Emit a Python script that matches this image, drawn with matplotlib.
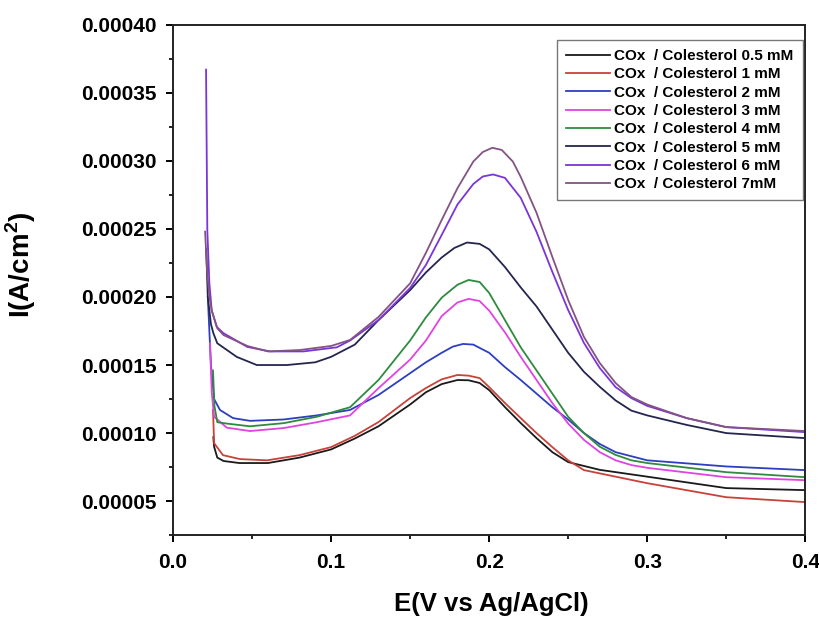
import matplotlib
matplotlib.use("Agg")
import matplotlib.pyplot as plt
from matplotlib.ticker import MultipleLocator

plt.rcParams['font.family'] = ['Liberation Sans', 'DejaVu Sans']
plt.rcParams['font.weight'] = 'bold'
plt.rcParams['mathtext.fontset'] = 'custom'
plt.rcParams['mathtext.bf'] = 'Liberation Sans:bold'
plt.rcParams['mathtext.rm'] = 'Liberation Sans:bold'

labels = ["COx  / Colesterol 0.5 mM", "COx  / Colesterol 1 mM", "COx  / Colesterol 2 mM",
          "COx  / Colesterol 3 mM", "COx  / Colesterol 4 mM", "COx  / Colesterol 5 mM",
          "COx  / Colesterol 6 mM", "COx  / Colesterol 7mM"]
colors = ['#1a1a1a', '#c8423a', '#2d3ec0', '#e044e0', '#2e8b3e', '#24254f', '#7a35d8', '#845384']

E_05 = [0.0255, 0.026, 0.028, 0.032, 0.042, 0.06, 0.08, 0.10, 0.115, 0.13, 0.15, 0.16, 0.17, 0.18,
        0.187, 0.194, 0.20, 0.21, 0.22, 0.23, 0.24, 0.25, 0.27, 0.30, 0.35, 0.40]
I_05 = [0.000097, 0.000090, 0.000082, 0.0000795, 0.000078, 0.000078, 0.000082, 0.000088, 0.000096,
        0.000105, 0.000121, 0.000130, 0.000136, 0.000139, 0.0001388, 0.0001368, 0.0001316, 0.0001191,
        0.0001074, 0.0000963, 0.000086, 0.0000787, 0.000073, 0.000068, 0.0000596, 0.0000581]

E_1 = [0.0253, 0.026, 0.0316, 0.0424, 0.0595, 0.08, 0.10, 0.115, 0.13, 0.15, 0.16, 0.17, 0.18, 0.187,
       0.194, 0.20, 0.21, 0.22, 0.23, 0.24, 0.25, 0.26, 0.30, 0.35, 0.40]
I_1 = [0.000117, 0.0000926, 0.0000838, 0.0000809, 0.00008, 0.0000838, 0.0000897, 0.000098, 0.0001081,
       0.0001257, 0.0001331, 0.0001395, 0.0001427, 0.0001422, 0.0001404, 0.0001338, 0.0001221,
       0.000111, 0.0001, 0.0000897, 0.00008, 0.0000728, 0.0000632, 0.0000529, 0.0000493]

E_2 = [0.022, 0.024, 0.026, 0.0297, 0.038, 0.0487, 0.07, 0.091, 0.112, 0.13, 0.15, 0.16, 0.17, 0.177,
       0.1835, 0.19, 0.20, 0.21, 0.22, 0.23, 0.24, 0.25, 0.26, 0.27, 0.28, 0.30, 0.35, 0.40]
I_2 = [0.0002, 0.00015, 0.000125, 0.000117, 0.000111, 0.000109, 0.00011, 0.000113, 0.000117, 0.000128,
       0.000144, 0.000152, 0.000159, 0.0001635, 0.0001655, 0.000165, 0.000159, 0.0001485, 0.000139,
       0.000129, 0.000119, 0.00011, 0.0001, 0.000092, 0.000086, 0.00008, 0.0000755, 0.0000728]

E_3 = [0.0234, 0.0245, 0.026, 0.034, 0.0487, 0.07, 0.091, 0.112, 0.13, 0.15, 0.16, 0.17, 0.18, 0.187,
       0.194, 0.20, 0.21, 0.22, 0.23, 0.24, 0.25, 0.26, 0.27, 0.28, 0.29, 0.30, 0.35, 0.40]
I_3 = [0.000166, 0.00013, 0.000112, 0.000104, 0.0001015, 0.0001037, 0.000108, 0.000113, 0.000133,
       0.000154, 0.000168, 0.000186, 0.000196, 0.0001986, 0.000197, 0.00019, 0.000174, 0.000156,
       0.000139, 0.000122, 0.000107, 0.000095, 0.000086, 0.00008, 0.0000765, 0.0000745, 0.0000676,
       0.0000654]

E_4 = [0.0253, 0.0262, 0.028, 0.034, 0.0487, 0.07, 0.091, 0.112, 0.13, 0.15, 0.16, 0.17, 0.18, 0.187,
       0.194, 0.20, 0.21, 0.22, 0.23, 0.24, 0.25, 0.26, 0.27, 0.28, 0.29, 0.30, 0.35, 0.40]
I_4 = [0.000146, 0.00012, 0.000108, 0.000107, 0.000105, 0.0001073, 0.000112, 0.000119, 0.000139,
       0.000168, 0.000185, 0.0001995, 0.000209, 0.0002125, 0.000211, 0.000203, 0.000183, 0.000163,
       0.000146, 0.000129, 0.000112, 0.0001, 0.00009, 0.000084, 0.00008, 0.000078, 0.0000713,
       0.0000676]

E_5 = [0.021, 0.022, 0.024, 0.0255, 0.028, 0.0403, 0.053, 0.072, 0.09, 0.10, 0.115, 0.13, 0.15, 0.16,
       0.17, 0.178, 0.186, 0.194, 0.20, 0.21, 0.22, 0.23, 0.24, 0.25, 0.26, 0.27, 0.28, 0.29, 0.30,
       0.325, 0.35, 0.40]
I_5 = [0.000235, 0.0002, 0.00018, 0.0001735, 0.000166, 0.000156, 0.00015, 0.00015, 0.000152, 0.000156,
       0.000165, 0.000183, 0.000205, 0.000218, 0.000229, 0.000236, 0.00024, 0.000239, 0.000235,
       0.000222, 0.000207, 0.000193, 0.000176, 0.000159, 0.000145, 0.000134, 0.000124, 0.0001165,
       0.000113, 0.000106, 0.0001, 0.0000963]

E_6 = [0.0209, 0.0217, 0.023, 0.0245, 0.0277, 0.0318, 0.047, 0.0614, 0.0825, 0.1036, 0.112, 0.13, 0.15,
       0.16, 0.17, 0.18, 0.19, 0.196, 0.2025, 0.21, 0.22, 0.23, 0.24, 0.25, 0.26, 0.27, 0.28, 0.29,
       0.30, 0.325, 0.35, 0.40]
I_6 = [0.000367, 0.000249, 0.00021, 0.00019, 0.000178, 0.0001735, 0.0001633, 0.00016, 0.00016,
       0.000163, 0.000168, 0.000183, 0.0002066, 0.0002235, 0.0002456, 0.000268, 0.000283, 0.0002885,
       0.00029, 0.0002875, 0.0002728, 0.0002478, 0.0002184, 0.0001904, 0.0001662, 0.0001478,
       0.0001338, 0.0001257, 0.00012, 0.000111, 0.0001044, 0.0001007]

E_7 = [0.0203, 0.0215, 0.023, 0.0245, 0.028, 0.032, 0.047, 0.06, 0.08, 0.10, 0.112, 0.13, 0.15, 0.16,
       0.17, 0.18, 0.19, 0.196, 0.202, 0.208, 0.215, 0.22, 0.23, 0.24, 0.25, 0.26, 0.27, 0.28, 0.29,
       0.30, 0.325, 0.35, 0.40]
I_7 = [0.000248, 0.00022, 0.0002, 0.00019, 0.000177, 0.000172, 0.000164, 0.00016, 0.000161, 0.000164,
       0.0001684, 0.0001853, 0.00021, 0.0002324, 0.0002566, 0.000280, 0.0002995, 0.0003065, 0.0003096,
       0.000308, 0.0002995, 0.0002882, 0.0002618, 0.0002294, 0.0001978, 0.0001706, 0.0001515,
       0.0001368, 0.0001265, 0.000121, 0.000111, 0.0001044, 0.0001015]

series_E = [E_05, E_1, E_2, E_3, E_4, E_5, E_6, E_7]
series_I = [I_05, I_1, I_2, I_3, I_4, I_5, I_6, I_7]

yticks = [0.00005, 0.00010, 0.00015, 0.00020, 0.00025, 0.00030, 0.00035, 0.00040]
ytick_labels = ["0.00005", "0.00010", "0.00015", "0.00020", "0.00025", "0.00030", "0.00035", "0.00040"]
xticks = [0.0, 0.1, 0.2, 0.3, 0.4]
xtick_labels = ["0.0", "0.1", "0.2", "0.3", "0.4"]

fig = plt.figure(figsize=(8.2, 6.18), dpi=100)
ax = fig.add_axes([0.211, 0.134, 0.771, 0.826])

for E, I, c, lab in zip(series_E, series_I, colors, labels):
    ax.plot(E, I, color=c, lw=1.3, label=lab)

ax.set_xlim(0.0, 0.4)
ax.set_ylim(0.000025, 0.0004)
ax.set_xticks(xticks)
ax.set_xticklabels(xtick_labels)
ax.set_yticks(yticks)
ax.set_yticklabels(ytick_labels)
ax.xaxis.set_minor_locator(MultipleLocator(0.05))
ax.yaxis.set_minor_locator(MultipleLocator(0.000025))
ax.tick_params(which='major', direction='out', length=5, width=1.4, labelsize=15)
ax.tick_params(axis='x', which='major', pad=8)
ax.tick_params(axis='y', which='major', pad=7)
ax.tick_params(which='minor', direction='out', length=3, width=1.2)
for lab in ax.get_xticklabels() + ax.get_yticklabels():
    lab.set_fontweight('bold')
for sp in ax.spines.values():
    sp.set_linewidth(1.4)
    sp.set_color('#222222')

ax.set_xlabel("E(V vs Ag/AgCl)", fontsize=18.5, fontweight='bold')
ax.xaxis.set_label_coords(0.504, -0.112)
ax.set_ylabel(r"I(A/cm$^{\mathbf{2}}$)", fontsize=20, fontweight='bold')
ax.yaxis.set_label_coords(-0.213, 0.53)

leg = ax.legend(loc='upper right', bbox_to_anchor=(0.996, 0.97), borderaxespad=0,
                fontsize=11, frameon=True, fancybox=False, handlelength=2.9,
                handletextpad=0.25, labelspacing=0.28, borderpad=0.6)
leg.get_frame().set_edgecolor('#555555')
leg.get_frame().set_linewidth(1.0)
for t in leg.get_texts():
    t.set_fontweight('bold')

fig.savefig("out.png", dpi=100)
